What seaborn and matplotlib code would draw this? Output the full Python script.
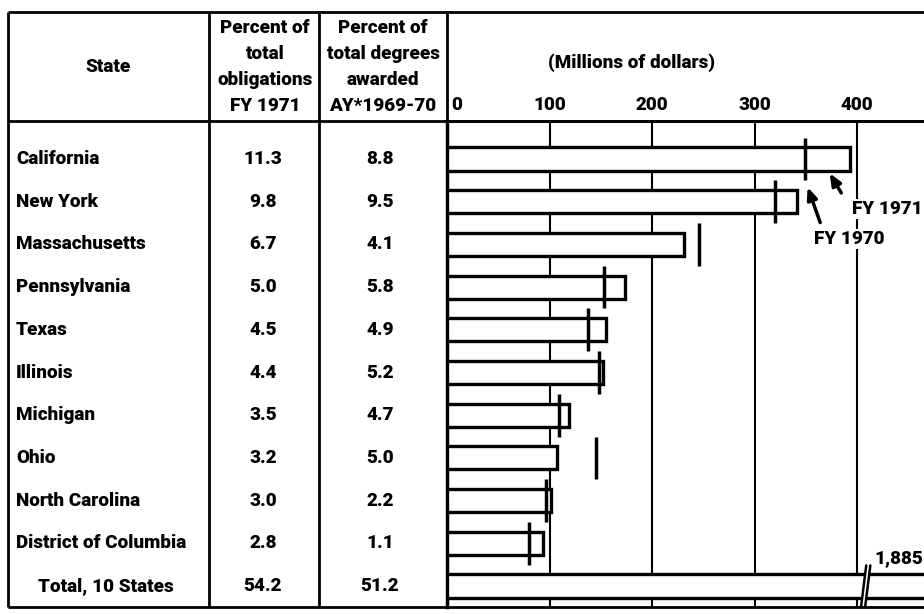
import numpy as np
import matplotlib
matplotlib.use('Agg')
import matplotlib.pyplot as plt
import matplotlib.transforms as mtransforms
import matplotlib.font_manager as fm
import seaborn as sns

# data
states = ['California', 'New York', 'Massachusetts', 'Pennsylvania', 'Texas',
          'Illinois', 'Michigan', 'Ohio', 'North Carolina', 'District of Columbia',
          'Total, 10 States']
pct_obligations = ['11.3', '9.8', '6.7', '5.0', '4.5', '4.4', '3.5', '3.2', '3.0', '2.8', '54.2']
pct_degrees = ['8.8', '9.5', '4.1', '5.8', '4.9', '5.2', '4.7', '5.0', '2.2', '1.1', '51.2']
fy1971 = [393, 341, 231, 174, 155, 152, 119, 107, 101, 94, 1885]
fy1970 = [349, 320, 246, 153, 138, 148, 109, 145, 97, 80]
ticks = [0, 100, 200, 300, 400]
tick_labels = ['0', '100', '200', '300', '400']
total_label = '1,885'

head_state = 'State'
head_oblig = ['Percent of', 'total', 'obligations', 'FY 1971']
head_degr = ['Percent of', 'total degrees', 'awarded', 'AY*1969-70']
head_money = '(Millions of dollars)'

sns.set_style('white')
plt.rcParams['font.family'] = ['Roboto', 'DejaVu Sans']
plt.rcParams['text.color'] = 'black'
plt.rcParams['xtick.color'] = 'black'

fs = 13.6
fp = fm.FontProperties(family=['Roboto', 'DejaVu Sans'], weight=900, size=fs)

W, H = 924, 614
fig = plt.figure(figsize=(W / 100, H / 100), dpi=100)

# table part drawn in pixel coords
axt = fig.add_axes([0, 0, 1, 1])
axt.set_xlim(0, W)
axt.set_ylim(H, 0)
axt.axis('off')

row0, step = 159, 42.7
top, hdr, bot = 12, 121, 607
x_left, c1, c2, c3 = 8, 209, 319, 447
lw = 2

axt.hlines([top, hdr, bot], x_left, W, color='black', lw=lw)
axt.vlines([x_left, c1, c2, c3], top, bot, color='black', lw=lw)

axt.text((x_left + c1) / 2, (top + hdr) / 2, head_state, ha='center', va='center', fontproperties=fp)
for i, (a, b) in enumerate(zip(head_oblig, head_degr)):
    yy = 28 + i * 26
    axt.text((c1 + c2) / 2 + 1, yy, a, ha='center', va='center', fontproperties=fp)
    axt.text((c2 + c3) / 2, yy, b, ha='center', va='center', fontproperties=fp)

for i, s in enumerate(states):
    yy = row0 + i * step
    if i == len(states) - 1:
        axt.text(106, yy, s, ha='center', va='center', fontproperties=fp)
    else:
        axt.text(16, yy, s, ha='left', va='center', fontproperties=fp)
    axt.text(263, yy, pct_obligations[i], ha='center', va='center', fontproperties=fp)
    axt.text(380, yy, pct_degrees[i], ha='center', va='center', fontproperties=fp)

axt.text(631, 63, head_money, ha='center', va='center', fontproperties=fp)

# bar chart part
px_per_unit = 1.025
ax = fig.add_axes([c3 / W, 1 - bot / H, (W - c3) / W, (bot - hdr) / H])
ax.set_facecolor('none')
sns.barplot(x=fy1971, y=states, orient='h', color='white', edgecolor='black',
            linewidth=2.4, width=0.54, ax=ax, zorder=3)
xmax = (W - c3) / px_per_unit
ax.set_xlim(0, xmax)
ax.set_ylim(10 + (bot - (row0 + 10 * step)) / step, -(row0 - hdr) / step)
ax.set_yticks([])
ax.set_ylabel('')
ax.set_xticks(ticks, tick_labels)
ax.xaxis.tick_top()
ax.tick_params(axis='x', length=0, pad=5)
for lab in ax.get_xticklabels():
    lab.set_fontproperties(fp)
first = ax.get_xticklabels()[0]
first.set_ha('left')
first.set_transform(first.get_transform() + mtransforms.ScaledTranslation(4 / 100, 0, fig.dpi_scale_trans))
ax.grid(axis='x', color='black', lw=1.5)
ax.grid(axis='y', visible=False)
ax.set_axisbelow(True)
for side in ['right', 'bottom']:
    ax.spines[side].set_visible(False)
ax.spines['top'].set_linewidth(lw)
ax.spines['left'].set_linewidth(2.5)
ax.spines['top'].set_color('black')
ax.spines['left'].set_color('black')

# FY 1970 markers
ypos = np.arange(len(fy1970))
ax.vlines(fy1970, ypos - 0.5, ypos + 0.5, color='black', lw=2.5, zorder=4)

# break on the total bar
brk = 407
yt = len(states) - 1
ax.fill([brk - 3, brk + 2, brk + 6, brk + 1], [yt + 0.45, yt - 0.45, yt - 0.45, yt + 0.45],
        color='white', zorder=5, lw=0)
ax.plot([brk - 3, brk + 2], [yt + 0.48, yt - 0.48], color='black', lw=1.8, zorder=6)
ax.plot([brk + 1, brk + 6], [yt + 0.48, yt - 0.48], color='black', lw=1.8, zorder=6)
ax.text(xmax - 1, yt - 0.66, total_label, ha='right', va='center', fontproperties=fp)

# legend arrows
ax.annotate('', xy=(372, 0.28), xytext=(386, 0.85),
            arrowprops=dict(arrowstyle='-|>,head_length=0.7,head_width=0.3', color='black', lw=2.5))
ax.annotate('', xy=(351, 0.6), xytext=(365, 1.55),
            arrowprops=dict(arrowstyle='-|>,head_length=0.7,head_width=0.3', color='black', lw=2.5))
bb = dict(facecolor='white', edgecolor='none', pad=1)
ax.text(xmax - 1, 1.17, 'FY 1971', ha='right', va='center', fontproperties=fp, bbox=bb, zorder=7)
ax.text(392, 1.87, 'FY 1970', ha='center', va='center', fontproperties=fp, bbox=bb, zorder=7)

fig.savefig('out.png', dpi=100)
